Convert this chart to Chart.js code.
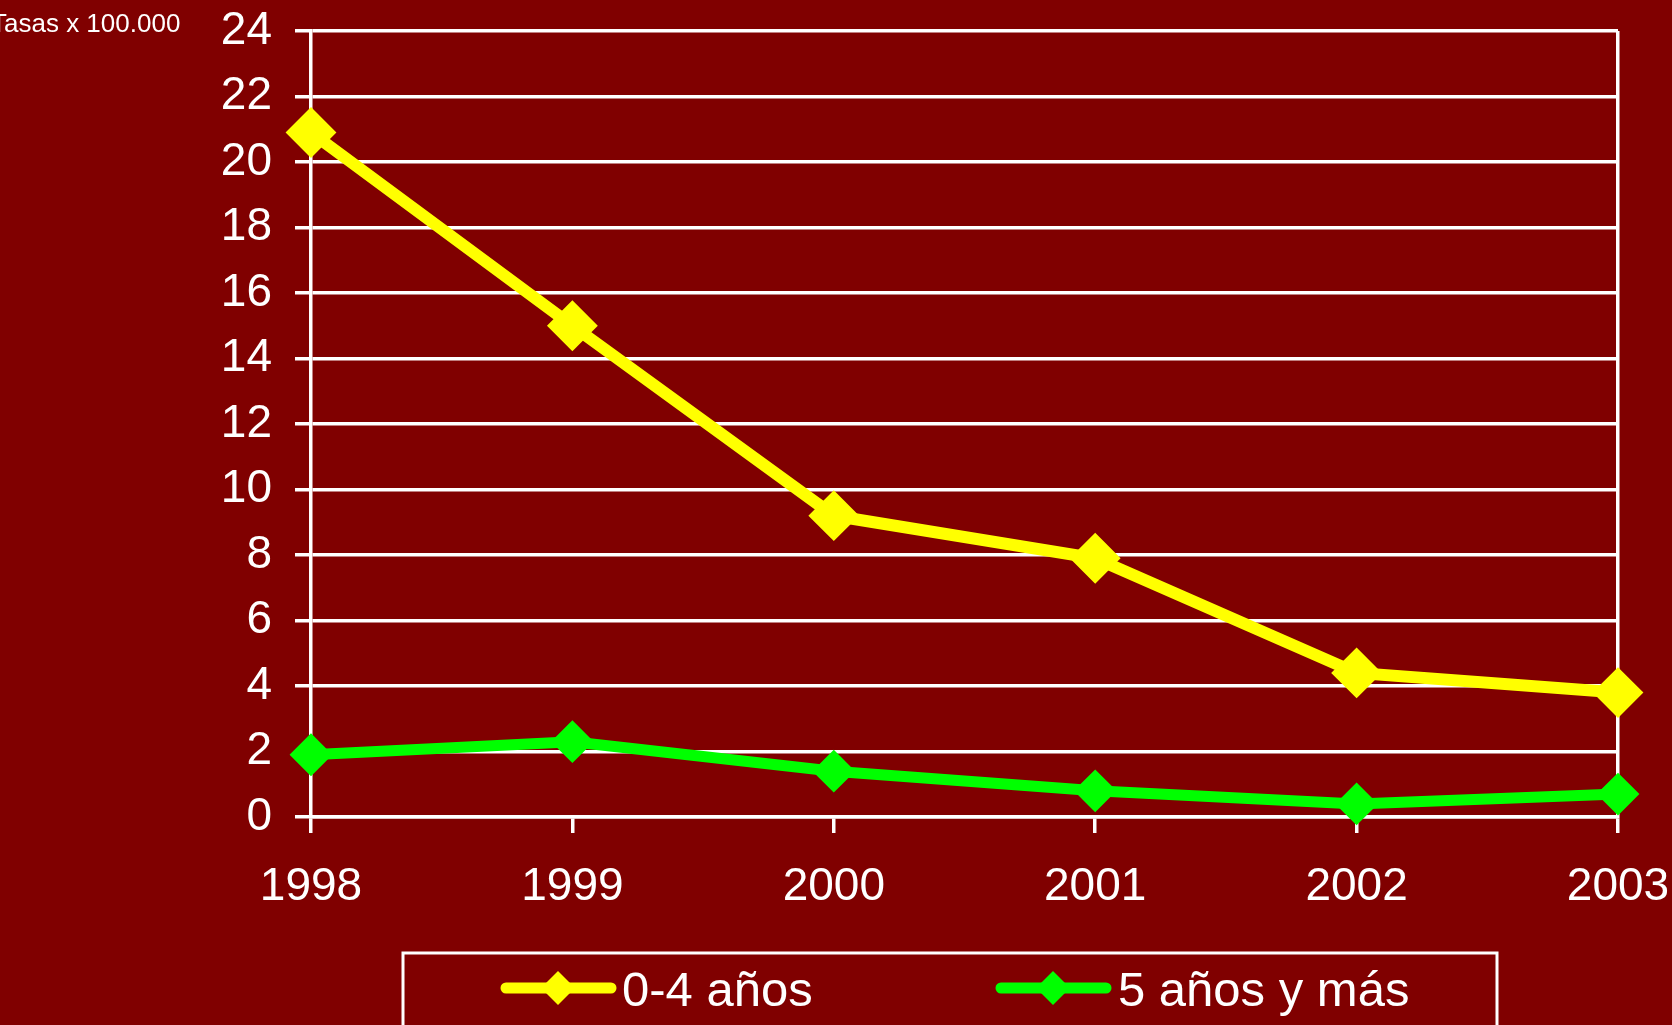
<!DOCTYPE html>
<html>
<head>
<meta charset="utf-8">
<script src="https://cdn.jsdelivr.net/npm/chart.js@4"></script>
<style>
    html, body { margin: 0; padding: 0; background: #800000; overflow: hidden; }
    canvas { display: block; }
</style>
</head>
<body>
<canvas id="tasasChart" width="1672" height="1025"></canvas>
<script>
"use strict";

var years = [ "1998", "1999", "2000", "2001", "2002", "2003" ];
var tasas04 = [ 20.9, 15.0, 9.2, 7.9, 4.4, 3.8 ];
var tasas5mas = [ 1.9, 2.3, 1.4, 0.8, 0.4, 0.7 ];
var yMin = 0, yMax = 24, yStep = 2;
var seriesNames = [ "0-4 años", "5 años y más" ];
var unitLabel = "Tasas x 100.000";

var FONT = "'Liberation Sans', Arial, sans-serif";
var BG = "#800000";

// fondo granate + titulo de unidades
var backdrop = {
    id: "backdrop",
    beforeDraw: function(c) {
        var ctx = c.ctx;
        ctx.save();
        ctx.fillStyle = BG;
        ctx.fillRect(0, 0, c.width, c.height);
        ctx.restore();
    },
    afterDraw: function(c) {
        var ctx = c.ctx;
        ctx.save();
        ctx.fillStyle = "#fff";
        ctx.font = "26px " + FONT;
        ctx.textBaseline = "alphabetic";
        ctx.fillText(unitLabel, -9, 32);
        ctx.restore();
    }
};

// leyenda propia: linea + rombo como en el original
var boxLegend = {
    id: "boxLegend",
    afterDraw: function(c) {
        var ctx = c.ctx, items = [ { x: 501, tx: 622 }, { x: 996, tx: 1118 } ], cy = 988;
        ctx.save();
        ctx.strokeStyle = "#fff";
        ctx.lineWidth = 3;
        ctx.strokeRect(403, 953, 1094, 200);
        c.data.datasets.forEach(function(ds, i) {
            var it = items[i];
            ctx.strokeStyle = ds.borderColor;
            ctx.lineWidth = 11;
            ctx.lineCap = "round";
            ctx.beginPath();
            ctx.moveTo(it.x + 5, cy);
            ctx.lineTo(it.x + 110, cy);
            ctx.stroke();
            ctx.fillStyle = ds.borderColor;
            ctx.beginPath();
            ctx.moveTo(it.x + 57, cy - 17);
            ctx.lineTo(it.x + 74, cy);
            ctx.lineTo(it.x + 57, cy + 17);
            ctx.lineTo(it.x + 40, cy);
            ctx.closePath();
            ctx.fill();
            ctx.fillStyle = "#fff";
            ctx.font = "49px " + FONT;
            ctx.textBaseline = "middle";
            ctx.fillText(ds.label, it.tx, cy + 4);
        });
        ctx.restore();
    }
};

function serie(label, data, color, r, w) {
    return {
        label: label,
        data: data,
        borderColor: color,
        backgroundColor: color,
        borderWidth: w,
        pointStyle: "rectRot",
        pointRadius: r,
        pointHoverRadius: r,
        pointBorderWidth: 2,
        pointBackgroundColor: color,
        pointBorderColor: color,
        tension: 0,
        clip: false
    };
}

new Chart(document.getElementById("tasasChart"), {
    type: "line",
    data: {
        labels: years,
        datasets: [
            serie(seriesNames[0], tasas04, "#ffff00", 24, 12),
            serie(seriesNames[1], tasas5mas, "#00ff00", 20, 11)
        ]
    },
    plugins: [ backdrop, boxLegend ],
    options: {
        responsive: false,
        animation: false,
        events: [],
        layout: { padding: { top: 31, right: 54, bottom: 0, left: 0 } },
        plugins: { legend: { display: false }, tooltip: { enabled: false } },
        scales: {
            x: {
                offset: false,
                border: { color: "#fff", width: 3.5 },
                grid: {
                    color: function(t) { return t.index === years.length - 1 ? "#fff" : "rgba(0,0,0,0)"; },
                    tickColor: "#fff",
                    lineWidth: 3.5,
                    tickLength: 16
                },
                ticks: { color: "#fff", font: { family: FONT, size: 46 }, padding: 27, maxRotation: 0, autoSkip: false },
                afterFit: function(s) { s.height = 208; s.paddingLeft = 0; s.paddingRight = 0; }
            },
            y: {
                min: yMin,
                max: yMax,
                border: { color: "#fff", width: 3.5 },
                grid: { color: "#fff", lineWidth: 3.5, tickLength: 16 },
                ticks: { stepSize: yStep, color: "#fff", font: { family: FONT, size: 46 }, padding: 23 },
                afterFit: function(s) { s.width = 311; s.paddingTop = 0; s.paddingBottom = 0; }
            }
        }
    }
});
</script>
</body>
</html>
